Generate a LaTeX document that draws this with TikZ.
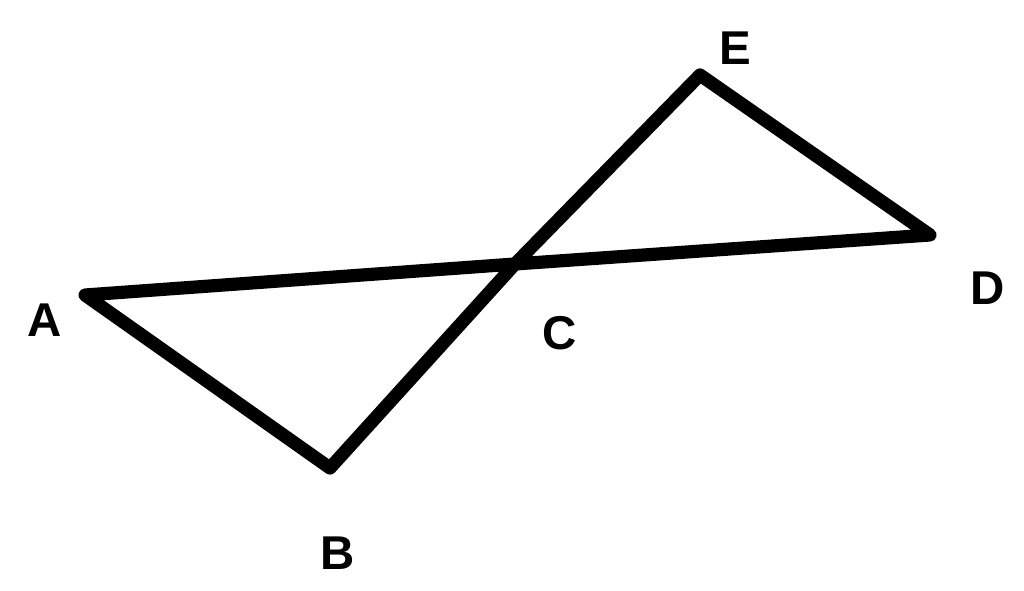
\documentclass[tikz,border=0pt]{standalone}
\usepackage{fontspec}
\setsansfont{Liberation Sans}
\begin{document}
\begin{tikzpicture}[x=0.02cm,y=-0.02cm]
  \tikzstyle{side}=[line width=7.5pt,line join=round]
  \tikzstyle{texto}=[font=\sffamily\bfseries\fontsize{27}{30}\selectfont]

  \useasboundingbox (0,0) rectangle (1024,591);

  \coordinate (a) at (85,295);
  \coordinate (b) at (330,468);
  \coordinate (c) at (515,264);
  \coordinate (d) at (930,235);
  \coordinate (e) at (700,75);

  \draw [side] (a) -- (b) -- (c) -- (e) -- (d) -- (c) -- cycle;

  \node [texto] (la) at (45,320) {A};
  \node [texto] (lb) at (338,553) {B};
  \node [texto] (lc) at (560,333) {C};
  \node [texto] (ld) at (988,288) {D};
  \node [texto] (le) at (735,48) {E};
\end{tikzpicture}
\end{document}
